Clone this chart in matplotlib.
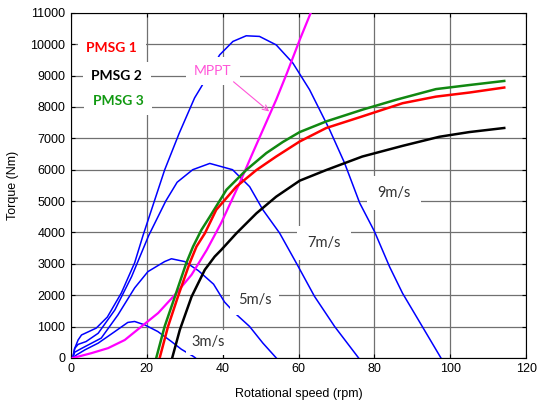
import numpy as np
import matplotlib
matplotlib.use("Agg")
import matplotlib.pyplot as plt

# turbine torque curves (blue), per wind speed
x3 = [0.5, 1.5, 3.7, 7.2, 11.6, 15, 16.8, 19.5, 22.9, 26.5, 29.1, 32.1, 32.8]
y3 = [0, 95, 255, 470, 840, 1130, 1160, 1050, 840, 520, 275, 60, 0]

x5 = [0.5, 1.0, 2.8, 8, 12.4, 16.8, 20.3, 24.7, 26.5, 30, 33.6, 37.6, 40.5, 43.2, 47.1, 50.6, 54.1]
y5 = [0, 180, 300, 630, 1370, 2230, 2750, 3070, 3160, 3070, 2780, 2350, 1780, 1430, 1000, 470, 0]

x7 = [0.5, 1.0, 1.9, 4, 7.2, 11.6, 16, 20.5, 25, 28, 32.1, 36.6, 42.6, 47.1, 50.6, 55, 59.7, 64.2, 69.5, 75.8]
y7 = [0, 300, 430, 520, 785, 1530, 2590, 3900, 5000, 5600, 6000, 6200, 6000, 5460, 4720, 3980, 2960, 1960, 1000, 0]

x9 = [0.5, 1.0, 1.9, 2.8, 6.7, 9.6, 13.3, 16.8, 19.0, 24.7, 28.5, 32.6, 34.4, 39.2, 42.7, 46.2,
      49.7, 54.1, 58.5, 62.9, 68.2, 72.1, 76.1, 80.0, 84.0, 87.4, 92.6, 97.5]
y9 = [0, 300, 570, 730, 950, 1300, 2070, 3030, 3900, 5990, 7150, 8290, 8650, 9660, 10090, 10270,
      10250, 9980, 9400, 8550, 7270, 6220, 4940, 4030, 2900, 2060, 1000, 0]

# MPPT curve
xm = [0.5, 1, 5.4, 9.8, 14.2, 18.6, 23, 27.4, 31.8, 35.8, 39.6, 44.5, 47.9, 51, 54.1, 57, 60.3, 63.2]
ym = [0, 10, 150, 310, 570, 1000, 1430, 2010, 2650, 3440, 4300, 5580, 6530, 7380, 8230, 9100, 10140, 11000]

# generator curves
xg = [22.5, 24.7, 27.4, 30.4, 32.2, 34.4, 36.6, 41, 46.2, 51.5, 55.8, 60.3, 67.3, 77, 85.7, 96.2, 105, 114.2]
yg = [0, 1000, 1950, 3020, 3550, 4080, 4500, 5360, 5990, 6530, 6880, 7200, 7540, 7920, 8230, 8570, 8700, 8830]

xr = [23.4, 25.6, 28.2, 31.3, 33.1, 35.3, 38.3, 43.6, 48.9, 54.1, 60.3, 67.3, 76.8, 87.4, 96.2, 105, 114.2]
yr = [0, 1000, 1950, 3020, 3550, 3970, 4720, 5460, 5990, 6420, 6900, 7330, 7700, 8120, 8330, 8460, 8620]

xk = [26.7, 28.7, 31.8, 35.3, 37.9, 39.6, 43.6, 48.9, 54.1, 60.3, 67.3, 76.8, 87.4, 97.1, 105, 114.2]
yk = [0, 890, 1950, 2810, 3230, 3440, 3970, 4610, 5140, 5650, 5990, 6420, 6760, 7050, 7200, 7330]

plt.rcParams['font.family'] = ['Liberation Sans', 'DejaVu Sans']

fig = plt.figure(figsize=(5.37, 4.03), dpi=100)
ax = fig.add_axes([0.132, 0.112, 0.848, 0.856])

for xs, ys in [(x3, y3), (x5, y5), (x7, y7), (x9, y9)]:
    ax.plot(xs, ys, color='#0000ff', lw=1.1, zorder=3)
ax.plot(xm, ym, color='#ff00ff', lw=1.6, zorder=3)
ax.plot(xg, yg, color='#118811', lw=1.8, zorder=3)
ax.plot(xr, yr, color='#ff0000', lw=1.8, zorder=3)
ax.plot(xk, yk, color='#000000', lw=1.8, zorder=3)

ax.set_xlim(0, 120)
ax.set_ylim(0, 11000)
ax.set_xticks(np.arange(0, 121, 20))
ax.set_yticks(np.arange(0, 11001, 1000))
ax.grid(True, color='#707070', lw=0.9, zorder=0)
ax.set_axisbelow(True)
ax.tick_params(direction='in', top=True, right=True, length=3, labelsize=9, pad=4)
ax.set_xlabel('Rotational speed (rpm)', fontsize=9, labelpad=9)
ax.set_ylabel('Torque (Nm)', fontsize=9, labelpad=8)

box = dict(boxstyle='square,pad=0.6', facecolor='white', edgecolor='none')
lab = ['Lato', 'DejaVu Sans']
ax.text(10.8, 9885, 'PMSG 1', color='#ff0000', fontsize=10, fontweight='bold', family=lab,
        ha='center', va='center', bbox=box, zorder=5)
ax.text(12.1, 8990, 'PMSG 2', color='#000000', fontsize=10, fontweight='bold', family=lab,
        ha='center', va='center', bbox=box, zorder=5)
ax.text(12.4, 8195, 'PMSG 3', color='#119911', fontsize=10, fontweight='bold', family=lab,
        ha='center', va='center', bbox=box, zorder=5)
ax.text(37.4, 9150, 'MPPT', color='#ff55d8', fontsize=10, family=lab,
        ha='center', va='center', bbox=box, zorder=5)
ax.annotate('', xy=(52.8, 7800), xytext=(42.3, 8860),
            arrowprops=dict(arrowstyle='->', color='#ff55d8', lw=0.8), zorder=5)

speed_labels = [(85.2, 5260, '9m/s', 0.7), (66.8, 3670, '7m/s', 0.7),
                (48.4, 1830, '5m/s', 0.5), (36.1, 490, '3m/s', 0.35)]
for tx, ty, s, p in speed_labels:
    ax.text(tx, ty, s, color='#333333', fontsize=10.5, family=lab, ha='center', va='center',
            bbox=dict(boxstyle='square,pad=%s' % p, facecolor='white', edgecolor='none'), zorder=5)

fig.savefig('out.png', dpi=100)
